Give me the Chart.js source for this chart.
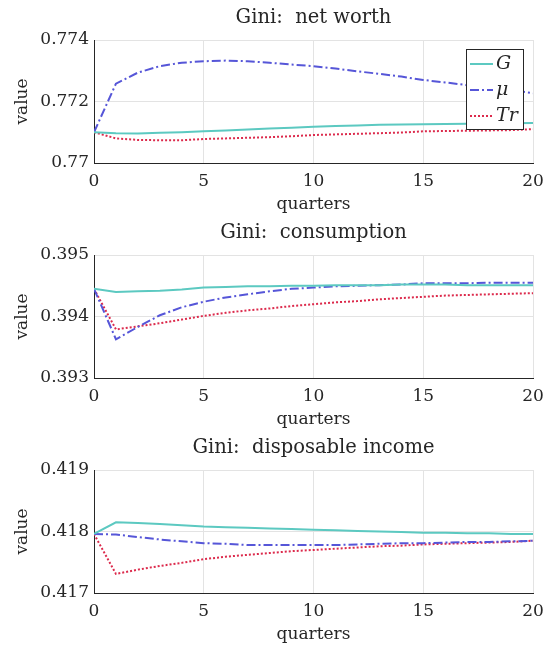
<!DOCTYPE html>
<html>
<head>
<meta charset="utf-8">
<script src="https://cdn.jsdelivr.net/npm/chart.js@4/dist/chart.umd.min.js"></script>
<style>
  body { margin: 0; background: #fff; }
  #wrap { position: relative; width: 548px; height: 653px; }
  canvas { position: absolute; left: 0; }
</style>
</head>
<body>
<div id="wrap">
  <canvas id="c0" width="548" height="215" style="top:0px"></canvas>
  <canvas id="c1" width="548" height="215" style="top:215px"></canvas>
  <canvas id="c2" width="548" height="215" style="top:430px"></canvas>
</div>
<script>
var quarters = [0,1,2,3,4,5,6,7,8,9,10,11,12,13,14,15,16,17,18,19,20];
var seriesNames = ["G", "\u03bc", "Tr"];
var titles = ["Gini:  net worth", "Gini:  consumption", "Gini:  disposable income"];

// net worth
var nwG  = [0.7710,0.77097,0.77096,0.77098,0.7710,0.77103,0.77106,0.77109,0.77112,0.77115,0.77118,0.7712,0.77122,0.77124,0.77125,0.77126,0.77127,0.77128,0.77128,0.77129,0.7713];
var nwMu = [0.7710,0.77258,0.77294,0.77315,0.77326,0.77331,0.77333,0.77331,0.77326,0.7732,0.77315,0.77307,0.77298,0.7729,0.77281,0.7727,0.77262,0.77253,0.77245,0.77237,0.77227];
var nwTr = [0.7710,0.7708,0.77075,0.77074,0.77074,0.77078,0.7708,0.77082,0.77084,0.77087,0.77091,0.77093,0.77095,0.77097,0.77099,0.77103,0.77104,0.77105,0.77106,0.77107,0.7711];

// consumption
var cG  = [0.39445,0.3944,0.39441,0.39442,0.39444,0.39447,0.39448,0.39449,0.39449,0.3945,0.3945,0.39451,0.39451,0.39451,0.39452,0.39452,0.39452,0.39451,0.39451,0.39451,0.39451];
var cMu = [0.39445,0.39363,0.39383,0.39402,0.39415,0.39424,0.39431,0.39436,0.39441,0.39445,0.39447,0.39449,0.3945,0.39451,0.39452,0.39454,0.39454,0.39454,0.39455,0.39455,0.39455];
var cTr = [0.39445,0.39379,0.39384,0.39389,0.39395,0.39401,0.39406,0.3941,0.39413,0.39417,0.3942,0.39423,0.39425,0.39428,0.3943,0.39432,0.39434,0.39435,0.39436,0.39437,0.39438];

// disposable income
var dG  = [0.41796,0.41815,0.41814,0.41812,0.4181,0.41808,0.41807,0.41806,0.41805,0.41804,0.41803,0.41802,0.41801,0.418,0.41799,0.41798,0.41798,0.41797,0.41797,0.41796,0.41796];
var dMu = [0.41796,0.41795,0.41791,0.41787,0.41784,0.41781,0.4178,0.41778,0.41778,0.41778,0.41778,0.41778,0.41779,0.4178,0.41781,0.41781,0.41782,0.41783,0.41783,0.41784,0.41785];
var dTr = [0.41796,0.41731,0.41738,0.41744,0.41749,0.41755,0.41759,0.41762,0.41765,0.41768,0.4177,0.41772,0.41774,0.41776,0.41777,0.41779,0.4178,0.41781,0.41782,0.41783,0.41785];

var yMins = [0.770, 0.393, 0.417];
var yMaxs = [0.774, 0.395, 0.419];
var ySteps = [0.002, 0.001, 0.001];

var colors = ["#5cc9c1", "#5656d8", "#dc2a4c"];
var dashes = [[], [9, 3, 2, 3], [2, 2]];
var serif = "'DejaVu Serif', serif";
var ink = "#262626";

function pts(arr) {
  return quarters.map(function (q, i) { return { x: q, y: arr[i] }; });
}

var legendPlugin = {
  id: "boxLegend",
  afterDraw: function (chart) {
    if (!chart.options.plugins.boxLegend || !chart.options.plugins.boxLegend.show) return;
    var ctx = chart.ctx, a = chart.chartArea;
    var w = 57, h = 80;
    var x = a.right - 10 - w, y = a.top + 9;
    ctx.save();
    ctx.fillStyle = "#fff";
    ctx.fillRect(x, y, w, h);
    ctx.strokeStyle = ink;
    ctx.lineWidth = 1;
    ctx.strokeRect(x + 0.5, y + 0.5, w, h);
    ctx.font = "italic 19px " + serif;
    ctx.textBaseline = "middle";
    chart.data.datasets.forEach(function (ds, i) {
      var ly = y + 15 + i * 26;
      ctx.strokeStyle = ds.borderColor;
      ctx.lineWidth = 2;
      ctx.setLineDash(ds.borderDash || []);
      ctx.beginPath();
      ctx.moveTo(x + 4, ly);
      ctx.lineTo(x + 27, ly);
      ctx.stroke();
      ctx.setLineDash([]);
      ctx.fillStyle = ink;
      ctx.fillText(ds.label, x + 30, ly);
    });
    ctx.restore();
  }
};

function makeChart(id, k, g, mu, tr) {
  var sets = [g, mu, tr];
  new Chart(id, {
    type: "line",
    data: {
      datasets: sets.map(function (s, i) {
        return {
          label: seriesNames[i],
          data: pts(s),
          borderColor: colors[i],
          borderDash: dashes[i],
          borderWidth: 2,
          pointRadius: 0,
          fill: false,
          tension: 0
        };
      })
    },
    options: {
      responsive: false,
      animation: false,
      layout: { padding: { left: 0, right: 15, top: 0, bottom: 0 } },
      plugins: {
        legend: { display: false },
        tooltip: { enabled: false },
        title: {
          display: true,
          fullSize: false,
          text: titles[k],
          color: ink,
          font: { family: serif, size: 19.5, weight: "normal", lineHeight: 1.2 },
          padding: { top: 6, bottom: 10.6 }
        },
        boxLegend: { show: k === 0 }
      },
      scales: {
        x: {
          type: "linear",
          min: 0, max: 20,
          afterFit: function (s) { s.height = 52; s.paddingLeft = 0; s.paddingRight = 0; },
          ticks: { stepSize: 5, color: ink, padding: 8, font: { family: serif, size: 17 } },
          grid: { color: "#e3e3e3", drawTicks: false },
          border: { color: ink, width: 1 },
          title: { display: true, text: "quarters", color: ink, padding: { top: 0, bottom: 0 },
                   font: { family: serif, size: 17, lineHeight: 1.2 } }
        },
        y: {
          min: yMins[k], max: yMaxs[k],
          afterFit: function (s) { s.width = 94; },
          ticks: {
            stepSize: ySteps[k], color: ink, padding: 5,
            font: { family: serif, size: 17 },
            callback: function (v) { return String(Number(v.toFixed(3))); }
          },
          grid: { color: "#e3e3e3", drawTicks: false },
          border: { color: ink, width: 1 },
          title: { display: true, text: "value", color: ink, padding: { top: 12, bottom: 0 },
                   font: { family: serif, size: 17, lineHeight: 1.2 } }
        }
      }
    },
    plugins: [legendPlugin]
  });
}

makeChart("c0", 0, nwG, nwMu, nwTr);
makeChart("c1", 1, cG, cMu, cTr);
makeChart("c2", 2, dG, dMu, dTr);
</script>
</body>
</html>
